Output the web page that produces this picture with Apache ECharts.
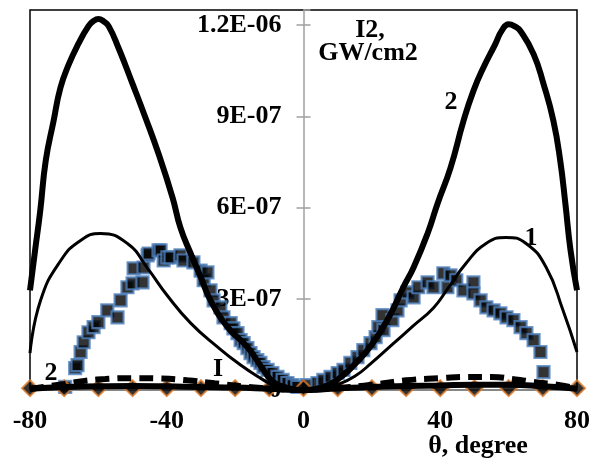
<!DOCTYPE html>
<html><head><meta charset="utf-8">
<script src="https://cdn.jsdelivr.net/npm/echarts@6/dist/echarts.min.js"></script>
<style>html,body{margin:0;padding:0;background:#fff}#c{width:593px;height:464px}</style>
</head><body><div id="c"></div>
<script>
// ---- data ----
var xTicks = [-80, -40, 0, 40, 80];
var yTicks = [0, 3e-7, 6e-7, 9e-7, 1.2e-6];

var curve2X = [-80, -78.5, -77, -75.4, -73.1, -71.1, -68.7, -65.8, -62.9, -61.5, -60, -58.5, -57, -54.1, -50, -46.2, -42.4, -38.3, -36, -33, -30, -27.2, -22.2, -16.4, -11.7, -8.8, -5, 0, 5, 10, 15, 20, 25, 29.2, 32.2, 36.3, 39.2, 43, 46.8, 49.7, 52.6, 56.1, 58, 60, 61.8, 63.5, 67.3, 70.2, 73.1, 75.1, 76.6, 78.1, 80];
var curve2Y = [3.28e-7, 4.6e-7, 5.9e-7, 7.54e-7, 8.85e-7, 9.94e-7, 10.7e-7, 11.4e-7, 11.97e-7, 12.13e-7, 12.2e-7, 12.13e-7, 11.97e-7, 11.25e-7, 10.07e-7, 8.95e-7, 7.77e-7, 6.33e-7, 5.34e-7, 4.49e-7, 3.7e-7, 2.95e-7, 2.07e-7, 1.41e-7, 0.66e-7, 0.26e-7, 0.08e-7, 0, 0.08e-7, 0.35e-7, 0.85e-7, 1.5e-7, 2.4e-7, 3.38e-7, 4.03e-7, 5.15e-7, 6.13e-7, 7.31e-7, 8.85e-7, 9.84e-7, 10.6e-7, 11.38e-7, 11.82e-7, 12.03e-7, 11.96e-7, 11.8e-7, 11.05e-7, 10.07e-7, 8.85e-7, 7.54e-7, 6.13e-7, 4.6e-7, 3.28e-7];

var curve1X = [-80, -76.9, -71, -65.2, -59.4, -51.5, -45.6, -39.8, -33, -25.1, -18.4, -12.6, -8.8, -5, 0, 5, 10, 15, 20, 26, 32, 38, 42, 47.5, 53.4, 59.2, 65.1, 71, 75.9, 80];
var curve1Y = [1.21e-7, 2.95e-7, 4.26e-7, 4.92e-7, 5.15e-7, 4.82e-7, 4.0e-7, 3.1e-7, 2.2e-7, 1.41e-7, 0.82e-7, 0.39e-7, 0.16e-7, 0.05e-7, 0, 0.05e-7, 0.18e-7, 0.45e-7, 0.9e-7, 1.5e-7, 2.1e-7, 2.7e-7, 3.3e-7, 4.16e-7, 4.82e-7, 5.02e-7, 4.82e-7, 4.03e-7, 2.62e-7, 1.25e-7];

var dashX = [-80, -76, -70, -64, -58, -50, -42, -34, -26, -18, -10, -4, 0, 6, 12, 20, 30, 40, 48, 55, 62, 67, 75, 80];
var dashY = [0.03e-7, 0.1e-7, 0.2e-7, 0.3e-7, 0.36e-7, 0.39e-7, 0.38e-7, 0.32e-7, 0.22e-7, 0.12e-7, 0.05e-7, 0.01e-7, 0, 0.03e-7, 0.08e-7, 0.17e-7, 0.32e-7, 0.39e-7, 0.43e-7, 0.43e-7, 0.35e-7, 0.27e-7, 0.16e-7, 0.05e-7];

var lowX = [-80, -70, -60, -50, -40, -30, -20, -10, 0, 10, 20, 30, 40, 50, 60, 70, 80];
var lowY = [0.04e-7, 0.1e-7, 0.12e-7, 0.13e-7, 0.12e-7, 0.1e-7, 0.08e-7, 0.04e-7, 0, 0.05e-7, 0.1e-7, 0.13e-7, 0.15e-7, 0.17e-7, 0.17e-7, 0.12e-7, 0.04e-7];

var measX = [-69.7, -66.8, -66.1, -65.2, -64.3, -62.9, -61.4, -60, -57.4, -54.4, -53.5, -51.5, -50, -49.7, -47.1, -46.8, -45.6, -45.3, -42.4, -41.8, -40.9, -39.8, -38.9, -36, -35.1, -32.2, -30.1, -29.2, -28.1, -27.2, -26.3, -24.3, -23.4, -21.3, -20.5, -19.3, -18.4, -17.5, -16.4, -15.5, -14.6, -13.5, -12.6, -11.7, -10.5, -9.1, -7.6, -6.1, -4.7, -3.2, -1.8,
  1.0, 4.1, 5.8, 7.9, 10, 11.7, 13.7, 15.8, 17.5, 19.6, 21.1, 21.9, 23.1, 23.4, 26, 27.5, 28.4, 30.4, 32.2, 33.6, 36.3, 38, 40.9, 42.1, 43, 44.7, 46.8, 49.7, 49.7, 51.8, 53.5, 55.6, 57.6, 59.4, 61.4, 63.5, 65.2, 67.3, 69.3, 70.2];
var measY = [0.1e-7, 0.72e-7, 0.82e-7, 1.25e-7, 1.57e-7, 1.9e-7, 2.07e-7, 2.23e-7, 2.62e-7, 2.39e-7, 2.95e-7, 3.38e-7, 3.51e-7, 4.0e-7, 3.54e-7, 4.03e-7, 4.43e-7, 4.49e-7, 4.59e-7, 4.59e-7, 4.26e-7, 4.36e-7, 4.36e-7, 4.43e-7, 4.26e-7, 4.2e-7, 3.93e-7, 3.61e-7, 3.87e-7, 3.28e-7, 2.95e-7, 2.72e-7, 2.39e-7, 2.2e-7, 2.03e-7, 1.87e-7, 1.64e-7, 1.54e-7, 1.38e-7, 1.21e-7, 1.08e-7, 0.98e-7, 0.89e-7, 0.75e-7, 0.66e-7, 0.56e-7, 0.43e-7, 0.33e-7, 0.23e-7, 0.16e-7, 0.1e-7,
  0.16e-7, 0.23e-7, 0.33e-7, 0.43e-7, 0.56e-7, 0.66e-7, 0.89e-7, 1.08e-7, 1.31e-7, 1.54e-7, 1.74e-7, 2.07e-7, 2.46e-7, 1.97e-7, 2.3e-7, 2.62e-7, 2.95e-7, 3.21e-7, 3.05e-7, 3.38e-7, 3.54e-7, 3.38e-7, 3.84e-7, 3.38e-7, 3.77e-7, 3.61e-7, 3.28e-7, 3.54e-7, 3.18e-7, 2.95e-7, 2.72e-7, 2.62e-7, 2.52e-7, 2.39e-7, 2.3e-7, 2.07e-7, 1.87e-7, 1.64e-7, 1.25e-7, 0.59e-7];

var diamX = [-80, -70, -60, -50, -40, -30, -20, -10, 0, 10, 20, 30, 40, 50, 60, 70, 80];
var diamY = [0.06e-7, 0.06e-7, 0.06e-7, 0.06e-7, 0.06e-7, 0.06e-7, 0.06e-7, 0.06e-7, 0.06e-7, 0.06e-7, 0.06e-7, 0.06e-7, 0.06e-7, 0.06e-7, 0.06e-7, 0.06e-7, 0.06e-7];

// ---- build ----
function pairs(xs, ys) { return xs.map(function (x, i) { return [x, ys[i]]; }); }
function fmtE(v) {
  if (Math.abs(v) < 1e-12) return '0';
  var e = Math.floor(Math.log10(Math.abs(v)) + 1e-9);
  var m = parseFloat((v / Math.pow(10, e)).toFixed(2)).toString();
  return m + 'E' + (e < 0 ? '-' : '+') + String(Math.abs(e)).padStart(2, '0');
}
var FONT = '"Liberation Serif", "Times New Roman", serif';
var GRAY = '#a0a0a0';
var GRID = { left: 30, right: 16, top: 10, bottom: 74 };
var W = 593;
var plotW = W - GRID.left - GRID.right;
var xMin = xTicks[0], xMax = xTicks[xTicks.length - 1];
// y axis sits at x = 0 of the horizontal scale
var leftOffset = -(plotW * (0 - xMin) / (xMax - xMin));
var rightOffset = -(plotW * (xMax - 0) / (xMax - xMin));

var chart = echarts.init(document.getElementById('c'), null, { renderer: 'canvas' });
chart.setOption({
  animation: false,
  backgroundColor: '#fff',
  grid: { left: GRID.left, right: GRID.right, top: GRID.top, bottom: GRID.bottom, show: true, borderColor: '#000', borderWidth: 1.5, backgroundColor: 'transparent', containLabel: false, outerBoundsMode: 'none' },
  xAxis: {
    type: 'value', min: xMin, max: xMax, interval: 40,
    axisLine: { onZero: false, lineStyle: { color: GRAY, width: 1.5 } },
    axisTick: { show: false },
    splitLine: { show: false },
    axisLabel: { margin: 18, color: '#000', fontFamily: FONT, fontWeight: 'bold', fontSize: 26 }
  },
  yAxis: [{
    type: 'value', min: 0, max: 1.25e-6, interval: 3e-7, position: 'left', offset: leftOffset,
    axisLine: { show: true, onZero: false, lineStyle: { color: GRAY, width: 1.5 } },
    axisTick: { show: true, length: 7, lineStyle: { color: GRAY, width: 1.5 } },
    splitLine: { show: false },
    axisLabel: { margin: 22, showMaxLabel: false, color: '#000', fontFamily: FONT, fontWeight: 'bold', fontSize: 26, formatter: fmtE }
  }, {
    type: 'value', min: 0, max: 1.25e-6, interval: 3e-7, position: 'right', offset: rightOffset,
    axisLine: { show: false, onZero: false },
    axisTick: { show: true, length: 7, lineStyle: { color: GRAY, width: 1.5 } },
    splitLine: { show: false },
    axisLabel: { show: false }
  }],
  series: [
    { type: 'line', data: pairs(curve2X, curve2Y), smooth: 0.5, symbol: 'none', lineStyle: { color: '#000', width: 6 } },
    { type: 'line', data: pairs(curve1X, curve1Y), smooth: 0.5, symbol: 'none', lineStyle: { color: '#000', width: 3 } },
    { type: 'line', data: pairs(dashX, dashY), smooth: 0.5, symbol: 'none', lineStyle: { color: '#000', width: 6, type: [14, 8] } },
    { type: 'line', data: pairs(lowX, lowY), smooth: 0.5, symbol: 'none', lineStyle: { color: '#000', width: 6 } },
    { type: 'scatter', data: pairs(measX, measY), symbol: 'rect', symbolSize: 12, itemStyle: { color: '#000', borderColor: '#4f81bd', borderWidth: 2.2 } },
    { type: 'scatter', data: pairs(diamX, diamY), symbol: 'diamond', symbolSize: 16, itemStyle: { color: '#000', borderColor: '#e07d2c', borderWidth: 2 } }
  ],
  graphic: [
    { type: 'text', z: 100, style: { x: 370, y: 30, text: 'I2,', textAlign: 'center', textVerticalAlign: 'middle', font: 'bold 26px ' + FONT, fill: '#000' } },
    { type: 'text', z: 100, style: { x: 368, y: 53, text: 'GW/cm2', textAlign: 'center', textVerticalAlign: 'middle', font: 'bold 26px ' + FONT, fill: '#000' } },
    { type: 'text', z: 100, style: { x: 478, y: 446, text: 'θ, degree', textAlign: 'center', textVerticalAlign: 'middle', font: 'bold 26px ' + FONT, fill: '#000' } },
    { type: 'text', z: 100, style: { x: 451, y: 102, text: '2', textAlign: 'center', textVerticalAlign: 'middle', font: 'bold 26px ' + FONT, fill: '#000' } },
    { type: 'text', z: 100, style: { x: 531, y: 238, text: '1', textAlign: 'center', textVerticalAlign: 'middle', font: 'bold 26px ' + FONT, fill: '#000' } },
    { type: 'text', z: 100, style: { x: 51, y: 373, text: '2', textAlign: 'center', textVerticalAlign: 'middle', font: 'bold 26px ' + FONT, fill: '#000' } },
    { type: 'text', z: 100, style: { x: 218, y: 369, text: 'I', textAlign: 'center', textVerticalAlign: 'middle', font: 'bold 26px ' + FONT, fill: '#000' } }
  ]
});
</script>
</body></html>
